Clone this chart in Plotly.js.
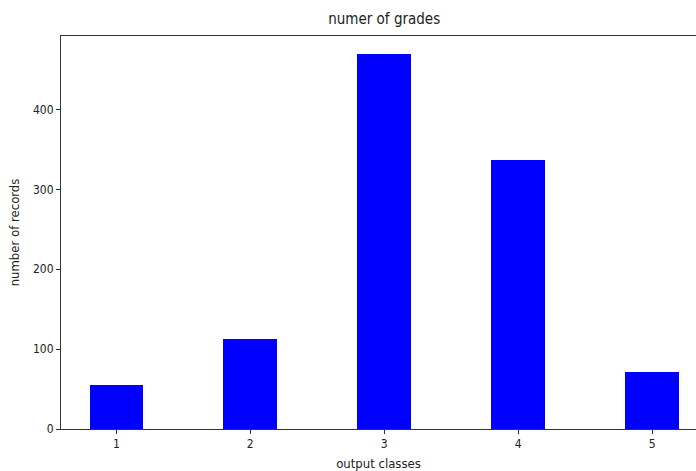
<!DOCTYPE html>
<html>
<head>
<meta charset="utf-8">
<script src="https://cdn.plot.ly/plotly-3.0.1.min.js"></script>
<style>html,body{margin:0;padding:0;background:#fff;}#chart{width:696px;height:471px;}</style>
</head>
<body>
<div id="chart"></div>
<script>
const categories = [1, 2, 3, 4, 5];
const records = [55, 113, 469, 337, 71];
const tickLabels = ["1", "2", "3", "4", "5"];

const font = "DejaVu Sans Condensed, DejaVu Sans, sans-serif";

Plotly.newPlot("chart", [{
  type: "bar",
  x: categories,
  y: records,
  width: 0.4,
  marker: {color: "#0000ff", line: {width: 0}},
  hoverinfo: "x+y"
}], {
  width: 696,
  height: 471,
  margin: {l: 61, r: 0, t: 36, b: 42},
  paper_bgcolor: "#fff",
  plot_bgcolor: "#fff",
  showlegend: false,
  bargap: 0,
  title: {
    text: "numer of grades",
    font: {family: font, size: 15, color: "#222"},
    xref: "container", x: 0.552, xanchor: "center",
    yref: "container", y: 0.96, yanchor: "middle"
  },
  xaxis: {
    range: [0.587, 5.328],
    tickvals: categories,
    ticktext: tickLabels,
    ticks: "outside", ticklen: 4, tickcolor: "#333", tickwidth: 1,
    showgrid: false, zeroline: false,
    showline: true, linecolor: "#333", linewidth: 1, mirror: true,
    tickfont: {family: font, size: 12, color: "#222"},
    title: {text: "output classes", font: {family: font, size: 13, color: "#222"}, standoff: 8}
  },
  yaxis: {
    range: [0, 492],
    tickvals: [0, 100, 200, 300, 400],
    ticks: "outside", ticklen: 4, tickcolor: "#333", tickwidth: 1,
    showgrid: false, zeroline: false,
    showline: true, linecolor: "#333", linewidth: 1,
    tickfont: {family: font, size: 12, color: "#222"},
    title: {text: "number of records", font: {family: font, size: 13, color: "#222"}, standoff: 10}
  }
}, {staticPlot: true});
</script>
</body>
</html>
